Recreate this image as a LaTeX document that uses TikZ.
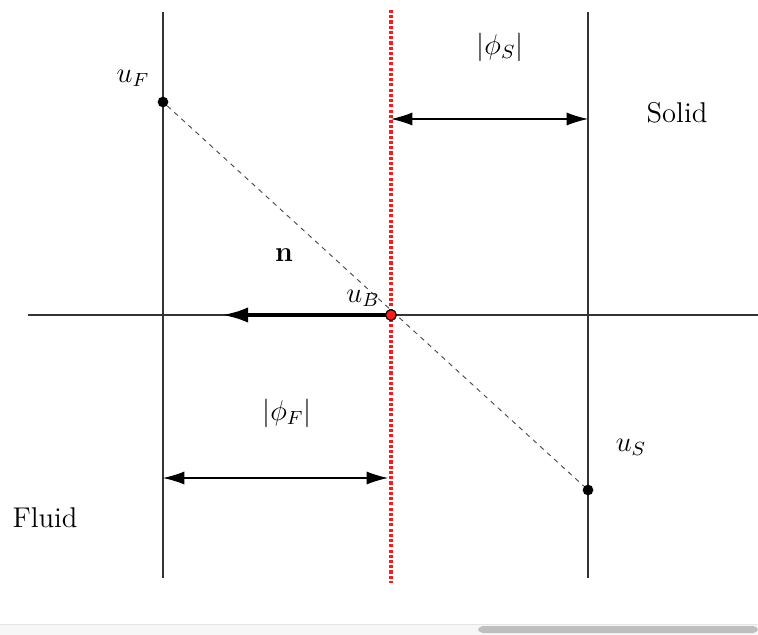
\documentclass[tikz,border=0pt]{standalone}
\usepackage{amsmath}
\usepackage{amssymb}
\usetikzlibrary{calc, positioning}
\usetikzlibrary{arrows.meta}
\begin{document}
\begin{tikzpicture}[x=0.42pt, y=-0.42pt, every node/.style={font=\large},
  gridline/.style={draw=black!80, line width=0.45pt},
  interface/.style={draw=red!90, line width=1.8pt, dash pattern=on 1.3pt off 0.9pt},
  dimarrow/.style={{Latex[length=9pt,width=5.5pt]}-{Latex[length=9pt,width=5.5pt]}, line width=0.45pt},
  pt/.style={circle, fill=black, inner sep=0pt, minimum size=4.5pt}]
\useasboundingbox (0,0) rectangle (758,635);
\def\xF{163}
\def\xB{391}
\def\xS{588}
\def\yax{315}
% scrollbar strip
\fill[black!3] (0,624) rectangle (758,635);
\draw[black!10] (0,624) -- (758,624);
\fill[black!25, rounded corners=2pt] (478,626) rectangle (758,633);
% grid lines
\coordinate (Ftop) at (\xF,12);
\coordinate (Fbot) at (\xF,578);
\coordinate (Stop) at (\xS,12);
\coordinate (Sbot) at (\xS,578);
\coordinate (Ltop) at (\xB,10);
\coordinate (Lbot) at (\xB,583);
\coordinate (AxL) at (28,\yax);
\coordinate (AxR) at (758,\yax);
\draw[gridline] (Ftop) -- (Fbot);
\draw[gridline] (Stop) -- (Sbot);
\draw[gridline] (AxL) -- (AxR);
% points
\node[pt] (uF) at (\xF,102) {};
\node[pt] (uS) at (\xS,490) {};
\draw[black!70, line width=0.4pt, dash pattern=on 2pt off 2pt] (uF) -- (uS);
% normal
\coordinate (Nend) at (222,\yax);
\draw[line width=1.7pt, -{Latex[length=11pt,width=6.5pt]}] (\xB,\yax) -- (Nend);
\draw[interface] (Ltop) -- (Lbot);
\node[circle, fill=red!90, draw=black, line width=0.5pt, inner sep=0pt, minimum size=4.5pt] (uB) at (\xB,\yax) {};
% dimensions
\coordinate (dSa) at (\xB,119);
\coordinate (dSb) at (\xS,119);
\coordinate (dFa) at (\xF,478);
\coordinate (dFb) at (388,478);
\draw[dimarrow] (dSa) -- (dSb);
\draw[dimarrow] (dFa) -- (dFb);
% labels
\node (lF) at (133,78) {$u_F$};
\node (lS) at (631,447) {$u_S$};
\node (lB) at (363,298) {$u_B$};
\node (ln) at (284,255) {$\mathbf{n}$};
\node (phiS) at (500,47) {$|\phi_S|$};
\node (phiF) at (287,413) {$|\phi_F|$};
\node (solid) at (677,113) {Solid};
\node (fluid) at (45,518) {Fluid};
\end{tikzpicture}
\end{document}
